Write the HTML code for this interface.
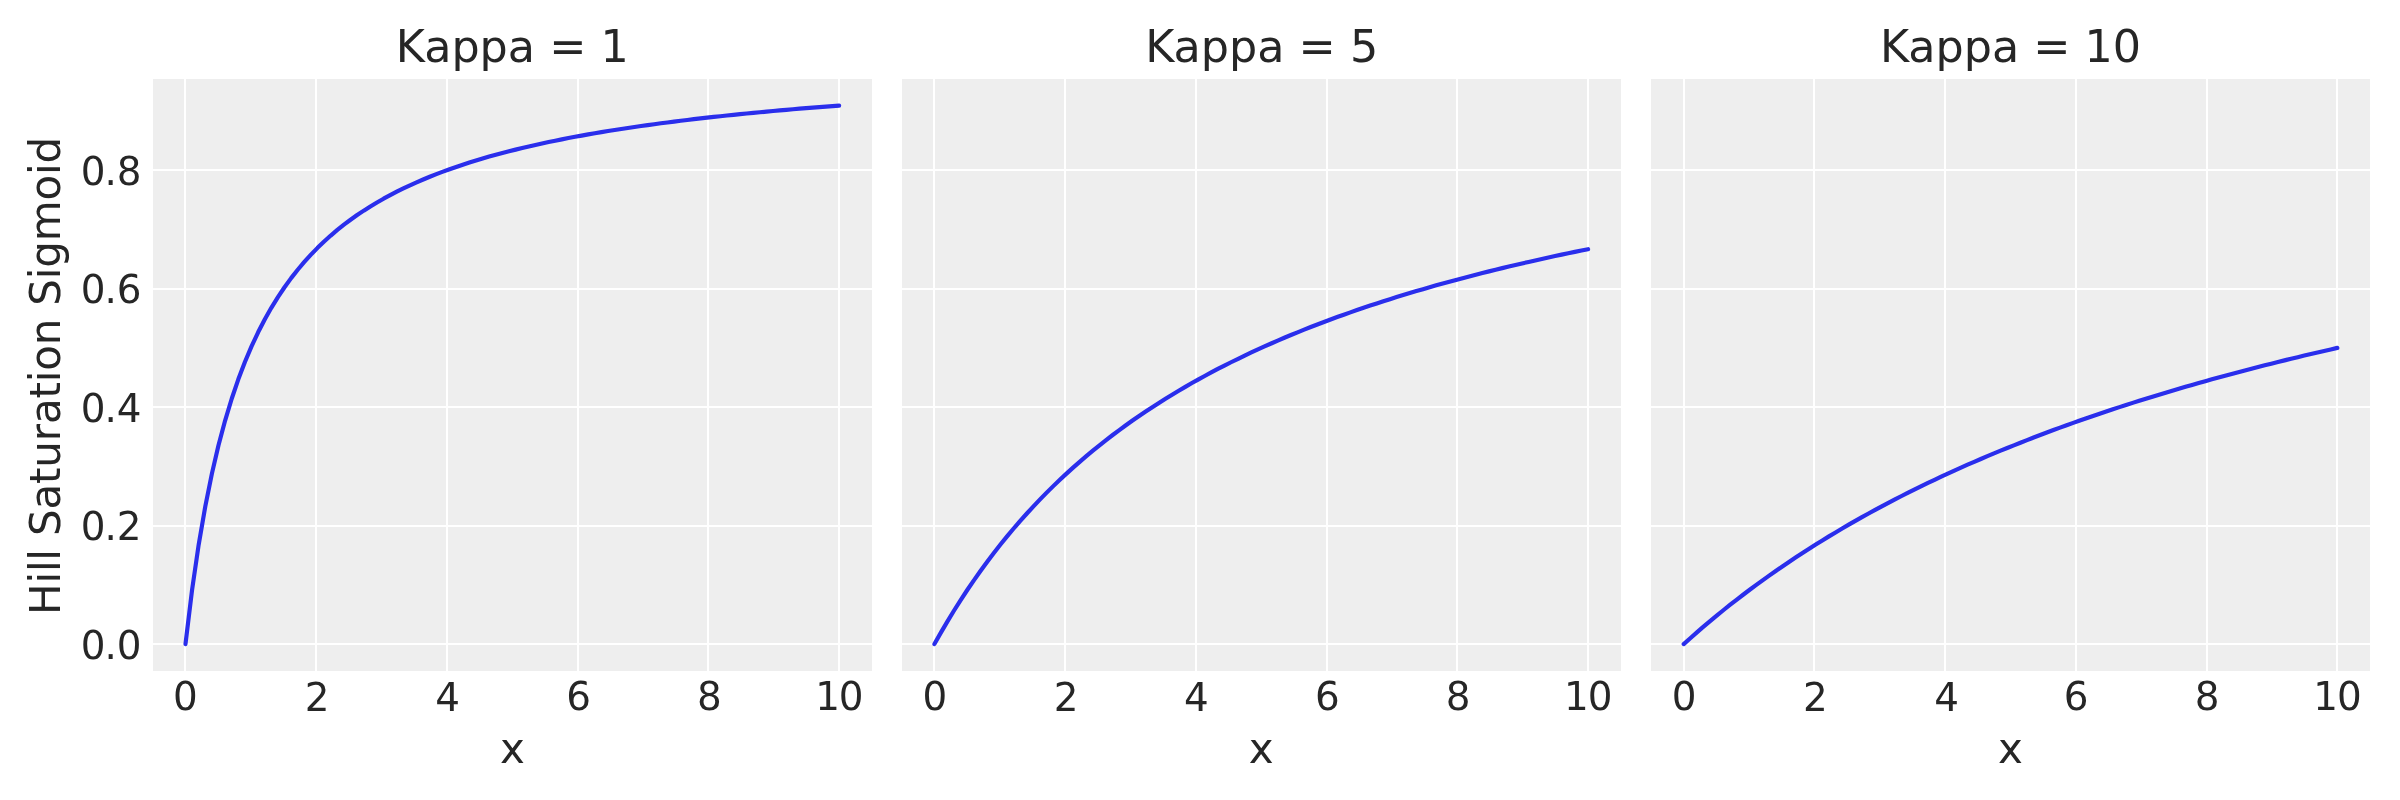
<!DOCTYPE html>
<html lang="en">
<head>
<meta charset="utf-8">
<title>Hill Saturation Sigmoid</title>
<style>
html,body{margin:0;padding:0;background:#ffffff;}
body{position:relative;width:2400px;height:800px;}
svg{display:block;position:absolute;left:0;top:0;will-change:transform;}
text,.ylabel{font-family:"DejaVu Sans","Liberation Sans",sans-serif;fill:#262626;color:#262626;}
.tick{font-size:38.889px;}
.ytick{font-size:38.889px;letter-spacing:0.0px;}
.label{font-size:42px;}
.title{font-size:44.444px;}
.grid{fill:#ffffff;shape-rendering:crispEdges;}
.panel{fill:#eeeeee;shape-rendering:crispEdges;}
.curve{fill:none;stroke:#2a2eec;stroke-width:4.1667;stroke-linecap:round;stroke-linejoin:round;}
.ylabel{position:absolute;left:0;top:0;width:600px;height:60px;line-height:60px;font-size:42px;letter-spacing:-0.18px;text-align:center;white-space:nowrap;transform-origin:0 0;transform:translate(16px,676px) rotate(-90deg);will-change:transform;}
</style>
</head>
<body>
<svg xmlns="http://www.w3.org/2000/svg" width="2400" height="800" viewBox="0 0 2400 800">
<rect x="0" y="0" width="2400" height="800" fill="#ffffff"/>
<g>
<rect class="panel" x="153" y="79" width="719" height="592"/>
<rect class="grid" x="184" y="79" width="2" height="592"/>
<rect class="grid" x="315" y="79" width="2" height="592"/>
<rect class="grid" x="446" y="79" width="2" height="592"/>
<rect class="grid" x="577" y="79" width="2" height="592"/>
<rect class="grid" x="707" y="79" width="2" height="592"/>
<rect class="grid" x="838" y="79" width="2" height="592"/>
<rect class="grid" x="153" y="169" width="719" height="2"/>
<rect class="grid" x="153" y="288" width="719" height="2"/>
<rect class="grid" x="153" y="406" width="719" height="2"/>
<rect class="grid" x="153" y="525" width="719" height="2"/>
<rect class="grid" x="153" y="643" width="719" height="2"/>
<polyline class="curve" points="185.49,644.10 192.09,589.75 198.70,544.54 205.30,506.34 211.90,473.63 218.50,445.31 225.11,420.56 231.71,398.73 238.31,379.34 244.91,362.01 251.52,346.41 258.12,332.31 264.72,319.50 271.32,307.81 277.93,297.09 284.53,287.24 291.13,278.14 297.73,269.72 304.33,261.91 310.94,254.64 317.54,247.85 324.14,241.50 330.74,235.55 337.35,229.96 343.95,224.70 350.55,219.75 357.15,215.07 363.76,210.64 370.36,206.45 376.96,202.47 383.56,198.69 390.17,195.10 396.77,191.67 403.37,188.41 409.97,185.30 416.58,182.32 423.18,179.48 429.78,176.75 436.38,174.14 442.98,171.64 449.59,169.23 456.19,166.92 462.79,164.70 469.39,162.57 476.00,160.51 482.60,158.53 489.20,156.62 495.80,154.77 502.41,152.99 509.01,151.27 515.61,149.61 522.21,148.00 528.82,146.45 535.42,144.94 542.02,143.48 548.62,142.07 555.23,140.70 561.83,139.37 568.43,138.08 575.03,136.82 581.64,135.60 588.24,134.42 594.84,133.27 601.44,132.15 608.04,131.06 614.65,130.00 621.25,128.97 627.85,127.97 634.45,126.99 641.06,126.03 647.66,125.10 654.26,124.20 660.86,123.31 667.47,122.45 674.07,121.60 680.67,120.78 687.27,119.98 693.88,119.19 700.48,118.42 707.08,117.67 713.68,116.94 720.29,116.22 726.89,115.52 733.49,114.83 740.09,114.16 746.69,113.50 753.30,112.86 759.90,112.23 766.50,111.61 773.10,111.00 779.71,110.41 786.31,109.83 792.91,109.26 799.51,108.70 806.12,108.15 812.72,107.61 819.32,107.08 825.92,106.56 832.53,106.06 839.13,105.56"/>
<text class="title" x="512.31" y="61.96" text-anchor="middle">Kappa = 1</text>
<text class="tick" x="185.39" y="710" text-anchor="middle">0</text>
<text class="tick" x="317.22" y="711" text-anchor="middle">2</text>
<text class="tick" x="447.55" y="711" text-anchor="middle">4</text>
<text class="tick" x="578.67" y="710" text-anchor="middle">6</text>
<text class="tick" x="709.40" y="710" text-anchor="middle">8</text>
<text class="tick" x="839.30" y="710" text-anchor="middle" dx="0 -1.15">10</text>
<text class="label" x="512.31" y="763.16" text-anchor="middle">x</text>
<text class="ytick" x="141.59" y="658.88" text-anchor="end" dx="0 -0.9 0">0.0</text>
<text class="ytick" x="141.59" y="540.40" text-anchor="end" dx="0 -0.9 0">0.2</text>
<text class="ytick" x="141.59" y="421.92" text-anchor="end" dx="0 -0.9 0">0.4</text>
<text class="ytick" x="141.59" y="303.44" text-anchor="end" dx="0 -0.9 0">0.6</text>
<text class="ytick" x="141.59" y="184.96" text-anchor="end" dx="0 -0.9 0">0.8</text>
</g>
<g>
<rect class="panel" x="902" y="79" width="719" height="592"/>
<rect class="grid" x="933" y="79" width="2" height="592"/>
<rect class="grid" x="1064" y="79" width="2" height="592"/>
<rect class="grid" x="1195" y="79" width="2" height="592"/>
<rect class="grid" x="1326" y="79" width="2" height="592"/>
<rect class="grid" x="1456" y="79" width="2" height="592"/>
<rect class="grid" x="1587" y="79" width="2" height="592"/>
<rect class="grid" x="902" y="169" width="719" height="2"/>
<rect class="grid" x="902" y="288" width="719" height="2"/>
<rect class="grid" x="902" y="406" width="719" height="2"/>
<rect class="grid" x="902" y="525" width="719" height="2"/>
<rect class="grid" x="902" y="643" width="719" height="2"/>
<polyline class="curve" points="934.42,644.10 941.02,632.37 947.63,621.10 954.23,610.25 960.83,599.81 967.43,589.75 974.04,580.06 980.64,570.71 987.24,561.68 993.84,552.96 1000.45,544.54 1007.05,536.39 1013.65,528.51 1020.25,520.88 1026.86,513.49 1033.46,506.34 1040.06,499.39 1046.66,492.66 1053.26,486.13 1059.87,479.79 1066.47,473.63 1073.07,467.64 1079.67,461.83 1086.28,456.17 1092.88,450.67 1099.48,445.31 1106.08,440.10 1112.69,435.02 1119.29,430.07 1125.89,425.25 1132.49,420.56 1139.10,415.97 1145.70,411.50 1152.30,407.14 1158.90,402.89 1165.51,398.73 1172.11,394.67 1178.71,390.71 1185.31,386.83 1191.91,383.05 1198.52,379.34 1205.12,375.72 1211.72,372.18 1218.32,368.72 1224.93,365.33 1231.53,362.01 1238.13,358.76 1244.73,355.58 1251.34,352.46 1257.94,349.41 1264.54,346.41 1271.14,343.48 1277.75,340.61 1284.35,337.79 1290.95,335.02 1297.55,332.31 1304.16,329.65 1310.76,327.04 1317.36,324.48 1323.96,321.97 1330.57,319.50 1337.17,317.08 1343.77,314.70 1350.37,312.36 1356.97,310.06 1363.58,307.81 1370.18,305.59 1376.78,303.41 1383.38,301.27 1389.99,299.16 1396.59,297.09 1403.19,295.05 1409.79,293.05 1416.40,291.08 1423.00,289.14 1429.60,287.24 1436.20,285.36 1442.81,283.51 1449.41,281.69 1456.01,279.90 1462.61,278.14 1469.22,276.41 1475.82,274.70 1482.42,273.01 1489.02,271.36 1495.62,269.72 1502.23,268.11 1508.83,266.53 1515.43,264.97 1522.03,263.43 1528.64,261.91 1535.24,260.41 1541.84,258.94 1548.44,257.48 1555.05,256.05 1561.65,254.64 1568.25,253.24 1574.85,251.87 1581.46,250.51 1588.06,249.17"/>
<text class="title" x="1261.74" y="61.96" text-anchor="middle">Kappa = 5</text>
<text class="tick" x="934.82" y="710" text-anchor="middle">0</text>
<text class="tick" x="1066.15" y="711" text-anchor="middle">2</text>
<text class="tick" x="1196.38" y="711" text-anchor="middle">4</text>
<text class="tick" x="1327.40" y="710" text-anchor="middle">6</text>
<text class="tick" x="1458.13" y="710" text-anchor="middle">8</text>
<text class="tick" x="1588.23" y="710" text-anchor="middle" dx="0 -1.15">10</text>
<text class="label" x="1261.24" y="763.16" text-anchor="middle">x</text>
</g>
<g>
<rect class="panel" x="1651" y="79" width="719" height="592"/>
<rect class="grid" x="1683" y="79" width="2" height="592"/>
<rect class="grid" x="1813" y="79" width="2" height="592"/>
<rect class="grid" x="1944" y="79" width="2" height="592"/>
<rect class="grid" x="2075" y="79" width="2" height="592"/>
<rect class="grid" x="2206" y="79" width="2" height="592"/>
<rect class="grid" x="2336" y="79" width="2" height="592"/>
<rect class="grid" x="1651" y="169" width="719" height="2"/>
<rect class="grid" x="1651" y="288" width="719" height="2"/>
<rect class="grid" x="1651" y="406" width="719" height="2"/>
<rect class="grid" x="1651" y="525" width="719" height="2"/>
<rect class="grid" x="1651" y="643" width="719" height="2"/>
<polyline class="curve" points="1683.69,644.10 1690.29,638.18 1696.90,632.37 1703.50,626.68 1710.10,621.10 1716.70,615.62 1723.31,610.25 1729.91,604.98 1736.51,599.81 1743.11,594.74 1749.72,589.75 1756.32,584.86 1762.92,580.06 1769.52,575.34 1776.13,570.71 1782.73,566.16 1789.33,561.68 1795.93,557.29 1802.53,552.96 1809.14,548.72 1815.74,544.54 1822.34,540.43 1828.94,536.39 1835.55,532.42 1842.15,528.51 1848.75,524.67 1855.35,520.88 1861.96,517.16 1868.56,513.49 1875.16,509.89 1881.76,506.34 1888.37,502.84 1894.97,499.39 1901.57,496.00 1908.17,492.66 1914.78,489.37 1921.38,486.13 1927.98,482.94 1934.58,479.79 1941.18,476.69 1947.79,473.63 1954.39,470.61 1960.99,467.64 1967.59,464.71 1974.20,461.83 1980.80,458.98 1987.40,456.17 1994.00,453.40 2000.61,450.67 2007.21,447.97 2013.81,445.31 2020.41,442.69 2027.02,440.10 2033.62,437.54 2040.22,435.02 2046.82,432.53 2053.43,430.07 2060.03,427.65 2066.63,425.25 2073.23,422.89 2079.84,420.56 2086.44,418.25 2093.04,415.97 2099.64,413.72 2106.24,411.50 2112.85,409.31 2119.45,407.14 2126.05,405.00 2132.65,402.89 2139.26,400.80 2145.86,398.73 2152.46,396.69 2159.06,394.67 2165.67,392.68 2172.27,390.71 2178.87,388.76 2185.47,386.83 2192.08,384.93 2198.68,383.05 2205.28,381.18 2211.88,379.34 2218.49,377.52 2225.09,375.72 2231.69,373.94 2238.29,372.18 2244.89,370.44 2251.50,368.72 2258.10,367.01 2264.70,365.33 2271.30,363.66 2277.91,362.01 2284.51,360.37 2291.11,358.76 2297.71,357.16 2304.32,355.58 2310.92,354.01 2317.52,352.46 2324.12,350.93 2330.73,349.41 2337.33,347.90"/>
<text class="title" x="2010.51" y="61.96" text-anchor="middle">Kappa = 10</text>
<text class="tick" x="1684.19" y="710" text-anchor="middle">0</text>
<text class="tick" x="1815.42" y="711" text-anchor="middle">2</text>
<text class="tick" x="1946.65" y="711" text-anchor="middle">4</text>
<text class="tick" x="2076.12" y="710" text-anchor="middle">6</text>
<text class="tick" x="2207.20" y="710" text-anchor="middle">8</text>
<text class="tick" x="2337.50" y="710" text-anchor="middle" dx="0 -1.15">10</text>
<text class="label" x="2010.51" y="763.16" text-anchor="middle">x</text>
</g>
</svg>
<div class="ylabel">Hill Saturation Sigmoid</div>
</body>
</html>
